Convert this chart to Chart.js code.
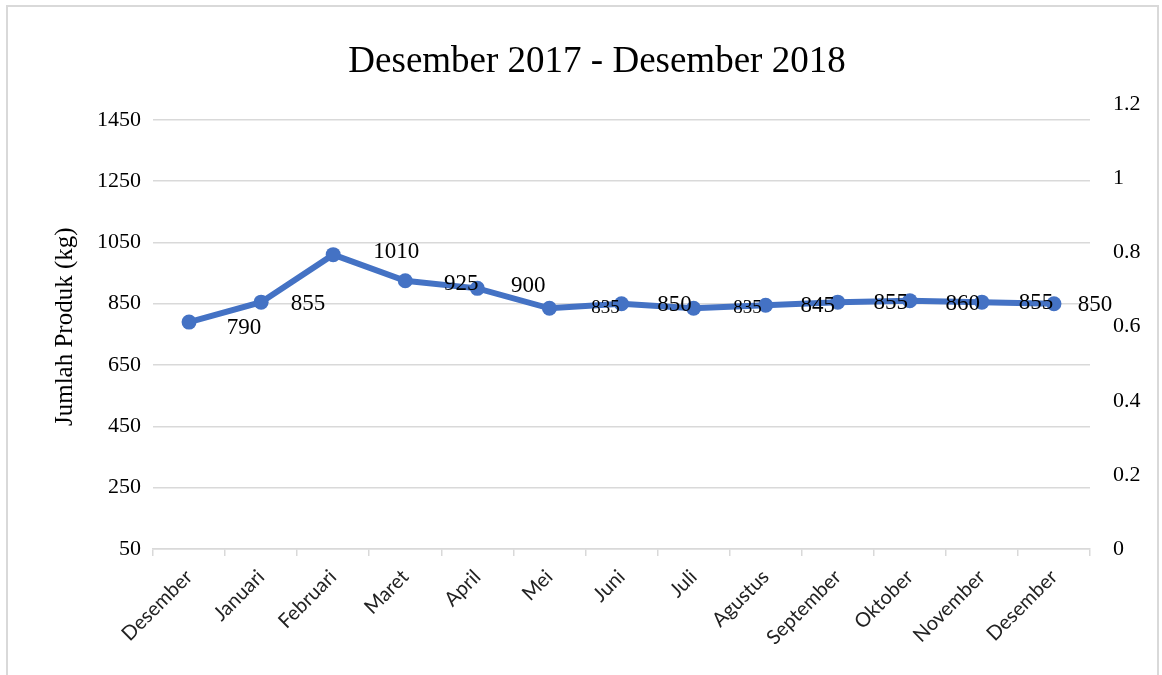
<!DOCTYPE html>
<html>
<head>
<meta charset="utf-8">
<title>Desember 2017 - Desember 2018</title>
<script src="https://cdn.jsdelivr.net/npm/chart.js@4.4.0/dist/chart.umd.min.js"></script>
<style>
  html, body { margin: 0; padding: 0; background: #fff; }
  #wrap { position: relative; width: 1162px; height: 675px; overflow: hidden; }
  #frame {
    position: absolute; left: 6px; top: 5px; width: 1153px; height: 690px;
    border: 2px solid #d9d9d9; box-sizing: border-box; pointer-events: none;
  }
</style>
</head>
<body>
<div id="wrap">
  <canvas id="chart" width="1162" height="675"></canvas>
  <div id="frame"></div>
</div>
<script>
// data
const months = ['Desember', 'Januari', 'Februari', 'Maret', 'April', 'Mei', 'Juni',
  'Juli', 'Agustus', 'September', 'Oktober', 'November', 'Desember'];
const produk = [790, 855, 1010, 925, 900, 835, 850, 835, 845, 855, 860, 855, 850];
const leftTicks = [50, 250, 450, 650, 850, 1050, 1250, 1450];
const rightTicks = [0, 0.2, 0.4, 0.6, 0.8, 1, 1.2];

// value labels sit to the right of each point, like the original
const pointLabels = {
  id: 'pointLabels',
  afterDatasetsDraw(chart, args, opts) {
    const ctx = chart.ctx;
    const meta = chart.getDatasetMeta(0);
    ctx.save();
    ctx.fillStyle = '#000';
    ctx.textAlign = 'center';
    ctx.textBaseline = 'middle';
    meta.data.forEach((pt, i) => {
      ctx.font = opts.sizes[i] + 'px "Liberation Serif"';
      ctx.fillText(String(produk[i]), pt.x + opts.dx[i], pt.y + opts.dy[i]);
    });
    ctx.restore();
  }
};

const serif = '"Liberation Serif", "Times New Roman", serif';

new Chart(document.getElementById('chart'), {
  type: 'line',
  data: {
    labels: months,
    datasets: [{
      data: produk,
      borderColor: '#4472C4',
      backgroundColor: '#4472C4',
      borderWidth: 6,
      pointRadius: 7.5,
      pointHoverRadius: 7.5,
      pointBorderWidth: 0,
      tension: 0,
      yAxisID: 'y'
    }]
  },
  options: {
    responsive: false,
    animation: false,
    // left padding moves the centred title to where the original has it
    layout: { padding: { left: 32, right: 0, top: 0, bottom: 0 } },
    plugins: {
      legend: { display: false },
      tooltip: { enabled: false },
      title: {
        display: true,
        text: 'Desember 2017 - Desember 2018',
        color: '#000',
        font: { family: serif, size: 37, weight: 'normal' },
        padding: { top: 40, bottom: 20 }
      },
      pointLabels: {
        dx: [55, 47, 63, 56, 51, 56, 53, 54, 52, 53, 53, 54, 41],
        dy: [6, 2, -3, 3, -2, 0, 1, 0, 1, 1, 3, 1, 1],
        sizes: [23, 23, 23, 23, 23, 19, 23, 19, 23, 23, 23, 23, 23]
      }
    },
    scales: {
      x: {
        offset: true,
        grid: {
          display: true, drawOnChartArea: false, drawTicks: true,
          tickLength: 7, color: '#d9d9d9', lineWidth: 1.5, offset: true
        },
        border: { display: true, color: '#d9d9d9', width: 1.5 },
        ticks: {
          autoSkip: false, maxRotation: 45, minRotation: 45,
          color: '#222', padding: 9,
          font: { family: 'Lato', size: 20 }
        },
        afterFit(s) { s.height = 126; }
      },
      y: {
        position: 'left',
        min: 50,
        max: 1500,
        afterBuildTicks(s) { s.ticks = leftTicks.map(v => ({ value: v })); },
        grid: { color: '#d9d9d9', lineWidth: 1.5, drawTicks: false },
        border: { display: false },
        ticks: {
          color: '#000', padding: 12,
          font: { family: serif, size: 22 },
          callback: v => String(v)
        },
        title: {
          display: true,
          text: 'Jumlah Produk (kg)',
          color: '#000',
          font: { family: serif, size: 25 },
          padding: { top: 18, bottom: 0 }
        },
        afterFit(s) { s.width = 121; }
      },
      y1: {
        position: 'right',
        min: 0,
        max: 1.2,
        afterBuildTicks(s) { s.ticks = rightTicks.map(v => ({ value: v })); },
        grid: { display: false, drawTicks: false },
        border: { display: false },
        ticks: {
          color: '#000', padding: 23,
          font: { family: serif, size: 22 },
          callback: v => String(v)
        },
        afterFit(s) { s.width = 72; }
      }
    }
  },
  plugins: [pointLabels]
});
</script>
</body>
</html>
